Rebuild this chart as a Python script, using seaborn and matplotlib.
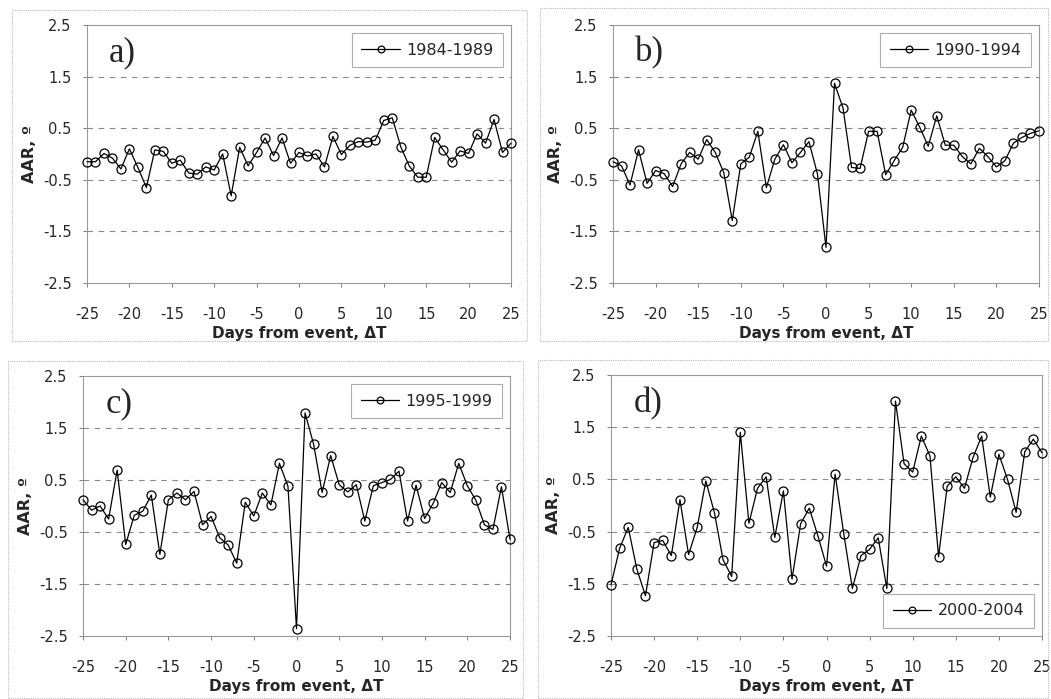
import numpy as np
import pandas as pd
import matplotlib
matplotlib.use("Agg")
import matplotlib.pyplot as plt
import seaborn as sns
from matplotlib.patches import Rectangle

days = list(range(-25, 26))

aar_1984_1989 = [-0.15, -0.15, 0.01, -0.08, -0.29, 0.10, -0.26, -0.65, 0.08, 0.05,
                 -0.18, -0.12, -0.37, -0.39, -0.25, -0.31, 0.00, -0.81, 0.13, -0.23,
                 0.03, 0.31, -0.03, 0.31, -0.18, 0.03, -0.04, 0.00, -0.25, 0.34,
                 -0.01, 0.17, 0.24, 0.23, 0.27, 0.65, 0.70, 0.14, -0.23, -0.45,
                 -0.45, 0.32, 0.08, -0.16, 0.06, 0.01, 0.39, 0.21, 0.67, 0.03, 0.21]

aar_1990_1994 = [-0.15, -0.23, -0.60, 0.08, -0.57, -0.32, -0.38, -0.63, -0.19, 0.03,
                 -0.10, 0.28, 0.03, -0.36, -1.29, -0.19, -0.06, 0.44, -0.65, -0.10,
                 0.18, -0.17, 0.03, 0.24, -0.39, -1.81, 1.37, 0.89, -0.26, -0.28,
                 0.44, 0.44, -0.40, -0.13, 0.13, 0.85, 0.52, 0.15, 0.74, 0.17,
                 0.17, -0.05, -0.19, 0.11, -0.05, -0.25, -0.13, 0.21, 0.32, 0.40, 0.45]

aar_1995_1999 = [0.12, -0.08, 0.00, -0.25, 0.69, -0.74, -0.18, -0.10, 0.21, -0.93,
                 0.12, 0.25, 0.12, 0.28, -0.36, -0.20, -0.61, -0.75, -1.10, 0.07,
                 -0.19, 0.25, 0.02, 0.82, 0.38, -2.36, 1.79, 1.19, 0.26, 0.97,
                 0.41, 0.27, 0.41, -0.29, 0.39, 0.45, 0.51, 0.67, -0.29, 0.40,
                 -0.24, 0.05, 0.45, 0.26, 0.82, 0.39, 0.11, -0.36, -0.45, 0.37, -0.64]

aar_2000_2004 = [-1.52, -0.82, -0.42, -1.22, -1.73, -0.71, -0.67, -0.96, 0.11, -0.94,
                 -0.42, 0.47, -0.14, -1.04, -1.36, 1.40, -0.34, 0.33, 0.55, -0.61,
                 0.28, -1.41, -0.35, -0.05, -0.58, -1.16, 0.60, -0.54, -1.59, -0.96,
                 -0.84, -0.62, -1.59, 2.00, 0.80, 0.64, 1.33, 0.95, -0.98, 0.37,
                 0.55, 0.33, 0.92, 1.33, 0.16, 0.98, 0.50, -0.13, 1.03, 1.27, 1.01]

series_labels = ["1984-1989", "1990-1994", "1995-1999", "2000-2004"]
panel_letters = ["a)", "b)", "c)", "d)"]
y_ticks = [2.5, 1.5, 0.5, -0.5, -1.5, -2.5]
x_ticks = [-25, -20, -15, -10, -5, 0, 5, 10, 15, 20, 25]

sns.set_theme(style="white")
plt.rcParams['font.family'] = ['DejaVu Sans']
plt.rcParams['axes.unicode_minus'] = False

W, H = 1051, 699
fig = plt.figure(figsize=(W / 100, H / 100), dpi=100)

def frac(x0, y0, x1, y1):
    return [x0 / W, 1 - y1 / H, (x1 - x0) / W, (y1 - y0) / H]

# panel frames (light scanned borders)
for (x0, y0, x1, y1) in [(12, 10, 527, 341), (540, 8, 1048, 341),
                         (8, 361, 523, 698), (538, 360, 1048, 698)]:
    fig.add_artist(Rectangle((x0 / W, 1 - y1 / H), (x1 - x0) / W, (y1 - y0) / H,
                             transform=fig.transFigure, fill=False,
                             edgecolor="#bbbbbb", lw=0.8, ls=(0, (1, 1))))

axes_boxes = [frac(87, 25, 511, 283), frac(613, 25, 1039, 283),
              frac(83, 376, 510, 636), frac(611, 375, 1042, 636)]
all_series = [aar_1984_1989, aar_1990_1994, aar_1995_1999, aar_2000_2004]
legend_locs = ["upper right", "upper right", "upper right", "lower right"]

for box, vals, lab, letter, lloc in zip(axes_boxes, all_series, series_labels,
                                        panel_letters, legend_locs):
    ax = fig.add_axes(box)
    df = pd.DataFrame({"day": days, "aar": vals})
    sns.lineplot(data=df, x="day", y="aar", ax=ax, color="black", lw=0.9,
                 marker="o", markersize=6.5, markerfacecolor="none",
                 markeredgecolor="black", markeredgewidth=0.9, label=lab,
                 clip_on=False, zorder=3)
    ax.set_xlim(-25, 25)
    ax.set_ylim(-2.5, 2.5)
    ax.set_xticks(x_ticks)
    ax.set_yticks(y_ticks)
    ax.set_yticklabels([f"{v:g}" for v in y_ticks])
    ax.tick_params(axis="both", labelsize=10.5, length=3, width=0.6,
                   color="#666666", direction="out", bottom=True, left=True)
    ax.tick_params(axis="x", pad=14)
    ax.tick_params(axis="y", pad=8)
    for v in [1.5, 0.5, -0.5, -1.5]:
        ax.axhline(v, color="#888888", lw=0.8, ls=(0, (5, 5)), zorder=0)
    for s in ax.spines.values():
        s.set_color("#999999")
        s.set_linewidth(0.8)
    ax.set_xlabel("Days from event, \u0394T", fontsize=11, fontweight="bold", labelpad=3)
    ax.set_ylabel("AAR, \u00ba", fontsize=11.5, fontweight="bold", labelpad=4)
    ax.text(0.052, 0.955, letter, transform=ax.transAxes, fontsize=25,
            family=["Liberation Serif", "DejaVu Serif"], va="top", ha="left")
    leg = ax.legend(loc=lloc, fontsize=11.5, frameon=True, fancybox=False,
                    handlelength=2.4, handletextpad=0.4, borderpad=0.6,
                    borderaxespad=0.5, markerscale=0.75)
    leg.get_frame().set_edgecolor("#999999")
    leg.get_frame().set_linewidth(0.8)

fig.savefig("out.png", dpi=100)
